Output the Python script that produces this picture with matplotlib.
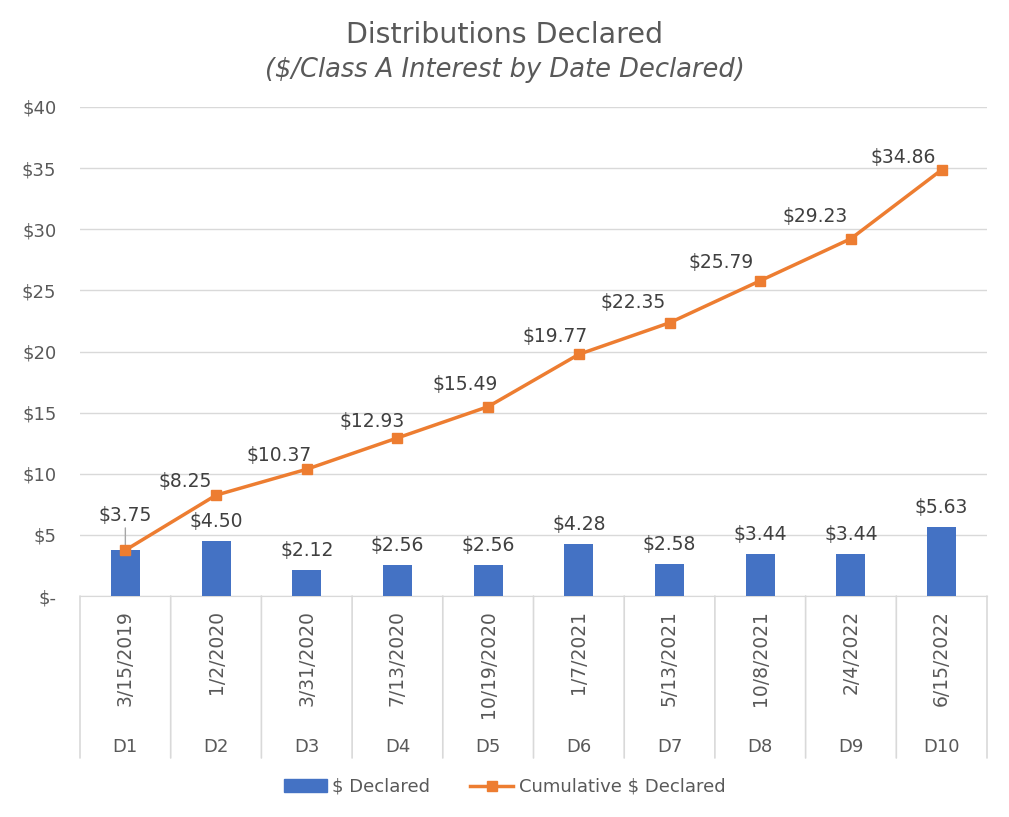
import numpy as np
import matplotlib.pyplot as plt
from matplotlib.ticker import FuncFormatter
from matplotlib.lines import Line2D
from matplotlib.patches import Patch

# Dados
codes = ['D1', 'D2', 'D3', 'D4', 'D5', 'D6', 'D7', 'D8', 'D9', 'D10']
dates = ['3/15/2019', '1/2/2020', '3/31/2020', '7/13/2020', '10/19/2020',
         '1/7/2021', '5/13/2021', '10/8/2021', '2/4/2022', '6/15/2022']
declared = [3.75, 4.50, 2.12, 2.56, 2.56, 4.28, 2.58, 3.44, 3.44, 5.63]
cumulative = [3.75, 8.25, 10.37, 12.93, 15.49, 19.77, 22.35, 25.79, 29.23, 34.86]

# deslocamento dos rótulos da linha (pixels)
line_lbl_off = [(0, 35), (-31, 14), (-28, 14), (-25, 16), (-23, 22),
                (-24, 18), (-36, 20), (-39, 18), (-36, 22), (-38, 12)]

BLUE = '#4472C4'
ORANGE = '#ED7D31'
TXT = '#595959'
LBL = '#404040'
GRID = '#D9D9D9'
FS = 13.5

W, H = 1009, 817
fig = plt.figure(figsize=(W / 100, H / 100), dpi=100)
ax = fig.add_axes([80 / W, (H - 596) / H, (987 - 80) / W, (596 - 107) / H])

x = np.arange(len(codes))
ax.bar(x, declared, width=0.32, color=BLUE, zorder=2)
ax.plot(x, cumulative, color=ORANGE, lw=2.5, marker='s', ms=7, zorder=3)

ax.set_xlim(-0.5, len(codes) - 0.5)
ax.set_ylim(0, 40)
ax.set_yticks(np.arange(0, 41, 5))
ax.yaxis.set_major_formatter(FuncFormatter(lambda v, p: '$-' if v == 0 else f'${v:.0f}'))
ax.tick_params(axis='y', length=0, pad=17, labelsize=13, labelcolor=TXT)
ax.set_xticks([])
ax.grid(axis='y', color=GRID, lw=1, zorder=0)
for s in ['top', 'right', 'left']:
    ax.spines[s].set_visible(False)
ax.spines['bottom'].set_color(GRID)
ax.spines['bottom'].set_zorder(1)

px = 72 / 100
# rótulos das barras
for i, v in enumerate(declared):
    if i == 0:
        continue
    ax.annotate(f'${v:.2f}', (i, v), xytext=(0, 10 * px), textcoords='offset points',
                ha='center', va='bottom', fontsize=FS, color=LBL)

# rótulos da linha
for i, v in enumerate(cumulative):
    dx, dy = line_lbl_off[i]
    ax.annotate(f'${v:.2f}', (i, v), xytext=(dx * px, dy * px), textcoords='offset points',
                ha='center', va='center', fontsize=FS, color=LBL, zorder=5)
# linha de chamada do primeiro rótulo
ax.annotate('', (0, cumulative[0]), xytext=(0, 25 * px), textcoords='offset points',
            arrowprops=dict(arrowstyle='-', color='#A6A6A6', lw=1), zorder=2)

# eixo de categorias em dois níveis
for i in range(len(codes)):
    ax.annotate(dates[i], (i, 0), xytext=(0, -14 * px), textcoords='offset points',
                rotation=90, ha='center', va='top', fontsize=FS, color=TXT,
                annotation_clip=False)
    ax.annotate(codes[i], (i, 0), xytext=(0, -151 * px), textcoords='offset points',
                ha='center', va='center', fontsize=13, color=TXT,
                annotation_clip=False)
for b in np.arange(-0.5, len(codes), 1.0):
    ax.annotate('', (b, 0), xytext=(0, -162 * px), textcoords='offset points',
                arrowprops=dict(arrowstyle='-', color=GRID, lw=1.2, shrinkA=0, shrinkB=0),
                annotation_clip=False)

fig.text(0.5, 1 - 35 / H, 'Distributions Declared', ha='center', va='center',
         fontsize=20.5, color=TXT)
fig.text(0.5, 1 - 70 / H, '($/Class A Interest by Date Declared)', ha='center', va='center',
         fontsize=18.5, color=TXT, style='italic')

handles = [Patch(color=BLUE, label='$ Declared'),
           Line2D([], [], color=ORANGE, lw=2.5, marker='s', ms=7, label='Cumulative $ Declared')]
fig.legend(handles=handles, loc='center', bbox_to_anchor=(0.5, 1 - 787 / H), ncol=2,
           frameon=False, fontsize=13, labelcolor=TXT, handlelength=2.4, columnspacing=2.2,
           handletextpad=0.3)

fig.savefig('out.png', dpi=100)
